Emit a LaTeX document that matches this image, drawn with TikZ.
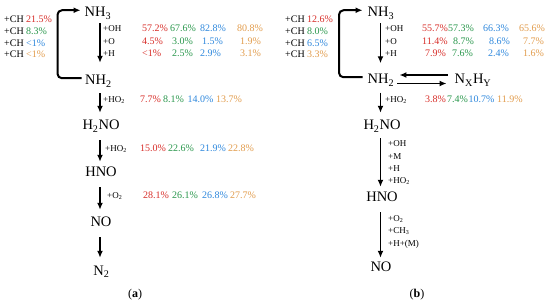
\documentclass[tikz,border=0pt]{standalone}
\usepackage{fontspec}
\setmainfont{Liberation Serif}
\usetikzlibrary{arrows.meta}
\definecolor{cr}{RGB}{215,45,40}
\definecolor{cg}{RGB}{40,150,75}
\definecolor{cb}{RGB}{45,135,220}
\definecolor{co}{RGB}{225,155,75}
\begin{document}
\begin{tikzpicture}[x=1pt,y=-1pt,
  sp/.style={font=\fontsize{14.5}{16}\selectfont, inner sep=0pt, text height=10.5pt, text depth=3pt, anchor=base},
  lab/.style={font=\fontsize{9}{10}\selectfont, inner sep=0pt, anchor=base west},
  pct/.style={font=\fontsize{10}{11}\selectfont, inner sep=0pt, anchor=base west},
  captxt/.style={font=\fontsize{12}{13}\selectfont, inner sep=0pt, anchor=base},
  rx/.style={line width=1.7pt, -{Latex[length=7pt,width=6pt]}},
  lp/.style={line width=2pt, rounded corners=4.5pt, -{Latex[length=7pt,width=6pt]}},
]
\useasboundingbox (0,0) rectangle (550,305);

% ---------------- panel (a) ----------------
\coordinate (ax) at (100,0);
\coordinate (la) at (57.5,46);
\node[sp] (a1) at (98,17) {NH\textsubscript{3}};
\node[sp] (a2) at (98.5,85) {NH\textsubscript{2}};
\node[sp] (a3) at (101,130) {H\textsubscript{2}NO};
\node[sp] (a4) at (101,176) {HNO};
\node[sp] (a5) at (101,226) {NO};
\node[sp] (a6) at (101.5,275) {N\textsubscript{2}};

\draw[rx, shorten <=3pt, shorten >=11.5pt] (a1.south -| ax) -- (a2.north -| ax);
\draw[rx, shorten <=5pt, shorten >=6.5pt] (a2.south -| ax) -- (a3.north -| ax);
\draw[rx, shorten <=7pt, shorten >=3.5pt] (a3.south -| ax) -- (a4.north -| ax);
\draw[rx, shorten <=8pt, shorten >=5.5pt] (a4.south -| ax) -- (a5.north -| ax);
\draw[rx, shorten <=8pt, shorten >=6.5pt] (a5.south -| ax) -- (a6.north -| ax);
\draw[lp, shorten <=3.5pt, shorten >=4pt] ([yshift=3pt]a2.west) -| (la) |- ([yshift=3pt]a1.west);

\node[pct] (ach1) at (4,22.7) {+CH \textcolor{cr}{21.5\%}};
\node[pct] (ach2) at (4,34.4) {+CH \textcolor{cg}{8.3\%}};
\node[pct] (ach3) at (4,46.1) {+CH \textcolor{cb}{<1\%}};
\node[pct] (ach4) at (4,57.8) {+CH \textcolor{co}{<1\%}};

\node[lab] (aoh) at (103,32) {+OH};
\node[lab] (ao) at (103,44.5) {+O};
\node[lab] (ah) at (103,56.5) {+H};
\node[pct,cr] (p11) at (142,32) {57.2\%};
\node[pct,cg] (p12) at (170,32) {67.6\%};
\node[pct,cb] (p13) at (200,32) {82.8\%};
\node[pct,co] (p14) at (237,32) {80.8\%};
\node[pct,cr] (p21) at (142,44.5) {4.5\%};
\node[pct,cg] (p22) at (172,44.5) {3.0\%};
\node[pct,cb] (p23) at (202,44.5) {1.5\%};
\node[pct,co] (p24) at (240,44.5) {1.9\%};
\node[pct,cr] (p31) at (142,56.5) {<1\%};
\node[pct,cg] (p32) at (172,56.5) {2.5\%};
\node[pct,cb] (p33) at (200,56.5) {2.9\%};
\node[pct,co] (p34) at (240,56.5) {3.1\%};

\node[lab] (aho2a) at (103,103) {+HO\textsubscript{2}};
\node[pct,cr] (q11) at (140,103) {7.7\%};
\node[pct,cg] (q12) at (163,103) {8.1\%};
\node[pct,cb] (q13) at (187.5,103) {14.0\%};
\node[pct,co] (q14) at (216,103) {13.7\%};

\node[lab] (aho2b) at (105,151.5) {+HO\textsubscript{2}};
\node[pct,cr] (r11) at (140,151.5) {15.0\%};
\node[pct,cg] (r12) at (168,151.5) {22.6\%};
\node[pct,cb] (r13) at (200,151.5) {21.9\%};
\node[pct,co] (r14) at (228,151.5) {22.8\%};

\node[lab] (ao2) at (107,198.5) {+O\textsubscript{2}};
\node[pct,cr] (s11) at (143,198.5) {28.1\%};
\node[pct,cg] (s12) at (172,198.5) {26.1\%};
\node[pct,cb] (s13) at (202,198.5) {26.8\%};
\node[pct,co] (s14) at (230,198.5) {27.7\%};

\node[captxt] (capa) at (135,298) {(\textbf{a})};

% ---------------- panel (b) ----------------
\coordinate (bx) at (380.5,0);
\coordinate (lb) at (339,46);
\node[sp] (b1) at (381,17) {NH\textsubscript{3}};
\node[sp] (b2) at (381,84) {NH\textsubscript{2}};
\node[sp] (bn) at (473,84) {N\textsubscript{X}H\textsubscript{Y}};
\node[sp] (b3) at (382,130) {H\textsubscript{2}NO};
\node[sp] (b4) at (382,202) {HNO};
\node[sp] (b5) at (381,272) {NO};

\draw[rx, shorten <=3pt, shorten >=10pt] (b1.south -| bx) -- (b2.north -| bx);
\draw[rx, shorten <=5.5pt, shorten >=6.5pt] (b2.south -| bx) -- (b3.north -| bx);
\draw[rx, shorten <=5pt, shorten >=4.5pt] (b3.south -| bx) -- (b4.north -| bx);
\draw[rx, shorten <=7pt, shorten >=3.5pt] (b4.south -| bx) -- (b5.north -| bx);
\draw[lp, shorten <=5pt, shorten >=5pt] ([yshift=3pt]b2.west) -| (lb) |- ([yshift=3pt]b1.west);
\draw[rx, shorten <=7pt, shorten >=5pt] ([yshift=5.25pt]bn.west) -- ([yshift=5.25pt]b2.east);
\draw[rx, shorten <=3pt, shorten >=8pt] ([yshift=-3.25pt]b2.east) -- ([yshift=-3.25pt]bn.west);

\node[pct] (bch1) at (285,22.7) {+CH \textcolor{cr}{12.6\%}};
\node[pct] (bch2) at (285,34.4) {+CH \textcolor{cg}{8.0\%}};
\node[pct] (bch3) at (285,46.1) {+CH \textcolor{cb}{6.5\%}};
\node[pct] (bch4) at (285,57.8) {+CH \textcolor{co}{3.3\%}};

\node[lab] (boh) at (385,32) {+OH};
\node[lab] (bo) at (385,44.5) {+O};
\node[lab] (bh) at (385,56.5) {+H};
\node[pct,cr] (t11) at (422,32) {55.7\%};
\node[pct,cg] (t12) at (448,32) {57.3\%};
\node[pct,cb] (t13) at (483,32) {66.3\%};
\node[pct,co] (t14) at (519,32) {65.6\%};
\node[pct,cr] (t21) at (422,44.5) {11.4\%};
\node[pct,cg] (t22) at (453,44.5) {8.7\%};
\node[pct,cb] (t23) at (489,44.5) {8.6\%};
\node[pct,co] (t24) at (523,44.5) {7.7\%};
\node[pct,cr] (t31) at (425,56.5) {7.9\%};
\node[pct,cg] (t32) at (452,56.5) {7.6\%};
\node[pct,cb] (t33) at (488,56.5) {2.4\%};
\node[pct,co] (t34) at (523,56.5) {1.6\%};

\node[lab] (bho2) at (385,103) {+HO\textsubscript{2}};
\node[pct,cr] (u11) at (425,103) {3.8\%};
\node[pct,cg] (u12) at (447,103) {7.4\%};
\node[pct,cb] (u13) at (468.5,103) {10.7\%};
\node[pct,co] (u14) at (497,103) {11.9\%};

\node[lab] (bl1) at (388,146.7) {+OH};
\node[lab] (bl2) at (388,159.2) {+M};
\node[lab] (bl3) at (388,171.2) {+H};
\node[lab] (bl4) at (388,183.3) {+HO\textsubscript{2}};

\node[lab] (bm1) at (388,221.7) {+O\textsubscript{2}};
\node[lab] (bm2) at (388,233.8) {+CH\textsubscript{3}};
\node[lab] (bm3) at (388,246.5) {+H+(M)};

\node[captxt] (capb) at (417,298) {(\textbf{b})};
\end{tikzpicture}
\end{document}
